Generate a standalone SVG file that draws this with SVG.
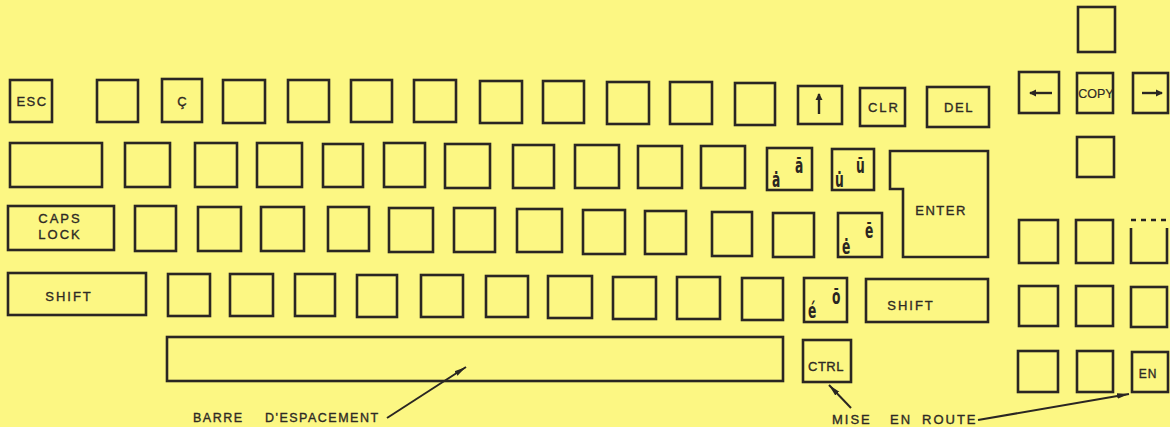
<svg xmlns="http://www.w3.org/2000/svg" width="1170" height="427" viewBox="0 0 1170 427">
<defs>
<style>
.k{fill:none;stroke:#2a2622;stroke-width:2.6;stroke-linejoin:miter}
.t{font-family:"Liberation Sans",Arial,sans-serif;font-size:13px;fill:#2e2a25;stroke:#2e2a25;stroke-width:0.35;text-anchor:middle;letter-spacing:1.5px}
.acc{font-family:"DejaVu Sans Condensed","DejaVu Sans",sans-serif;font-weight:bold;font-size:22px;fill:#2a2622}
.c{fill:none;stroke:#2a2622;stroke-width:2}
.ar{fill:none;stroke:#2a2622;stroke-width:2.4}
</style>
<marker id="ah" markerUnits="userSpaceOnUse" markerWidth="14" markerHeight="8" refX="12" refY="4" orient="auto">
<path d="M0,1.2 L12,4 L0,6.8 Z" fill="#2a2622"/>
</marker>
<marker id="ahs" markerUnits="userSpaceOnUse" markerWidth="8" markerHeight="8" refX="6" refY="4" orient="auto">
<path d="M0,0.5 L7,4 L0,7.5 Z" fill="#2a2622"/>
</marker>
</defs>
<rect width="1170" height="427" fill="#fcf783"/>

<g id="row1">
<g id="k-esc"><rect class="k" x="10" y="80" width="42" height="42"/><text class="t" x="32" y="106">ESC</text></g>
<g id="r1-2"><rect class="k" x="97" y="80" width="41" height="42"/></g>
<g id="k-cedil"><rect class="k" x="162" y="79" width="40" height="43"/><text class="t" x="182" y="106" style="letter-spacing:0">Ç</text></g>
<g id="r1-4"><rect class="k" x="223" y="80" width="42" height="43"/></g>
<g id="r1-5"><rect class="k" x="288" y="80" width="41" height="42"/></g>
<g id="r1-6"><rect class="k" x="351" y="80" width="41" height="42"/></g>
<g id="r1-7"><rect class="k" x="414" y="80" width="42" height="42"/></g>
<g id="r1-8"><rect class="k" x="480" y="81" width="42" height="42"/></g>
<g id="r1-9"><rect class="k" x="543" y="81" width="41" height="42"/></g>
<g id="r1-10"><rect class="k" x="607" y="82" width="42" height="42"/></g>
<g id="r1-11"><rect class="k" x="670" y="82" width="42" height="42"/></g>
<g id="r1-12"><rect class="k" x="735" y="83" width="40" height="42"/></g>
<g id="k-up"><rect class="k" x="798" y="86" width="44" height="38"/><line class="ar" x1="819" y1="114" x2="819" y2="94" marker-end="url(#ahs)"/></g>
<g id="k-clr"><rect class="k" x="860" y="88" width="45" height="38"/><text class="t" x="884" y="112" style="letter-spacing:2px">CLR</text></g>
<g id="k-del"><rect class="k" x="927" y="87" width="62" height="40"/><text class="t" x="959" y="112">DEL</text></g>
</g>

<g id="cursor-keys">
<g id="k-ctop"><rect class="k" x="1078" y="7" width="37" height="45"/></g>
<g id="k-left"><rect class="k" x="1019" y="72" width="40" height="41"/><line class="ar" x1="1052" y1="93" x2="1030" y2="93" marker-end="url(#ahs)"/></g>
<g id="k-copy"><rect class="k" x="1077" y="73" width="36" height="40"/><text class="t" x="1096" y="98" style="letter-spacing:0;font-size:12.5px;stroke-width:0.2">COPY</text></g>
<g id="k-right"><rect class="k" x="1133" y="73" width="35" height="40"/><line class="ar" x1="1142" y1="93" x2="1162" y2="93" marker-end="url(#ahs)"/></g>
<g id="k-cbot"><rect class="k" x="1077" y="137" width="37" height="40"/></g>
</g>

<g id="row2">
<g id="k-tab"><rect class="k" x="10" y="143" width="92" height="44"/></g>
<g id="r2-2"><rect class="k" x="125" y="143" width="45" height="44"/></g>
<g id="r2-3"><rect class="k" x="195" y="143" width="42" height="44"/></g>
<g id="r2-4"><rect class="k" x="257" y="143" width="45" height="44"/></g>
<g id="r2-5"><rect class="k" x="323" y="144" width="40" height="43"/></g>
<g id="r2-6"><rect class="k" x="384" y="143" width="41" height="44"/></g>
<g id="r2-7"><rect class="k" x="445" y="144" width="45" height="44"/></g>
<g id="r2-8"><rect class="k" x="513" y="145" width="41" height="43"/></g>
<g id="r2-9"><rect class="k" x="575" y="145" width="44" height="43"/></g>
<g id="r2-10"><rect class="k" x="638" y="146" width="44" height="42"/></g>
<g id="r2-11"><rect class="k" x="701" y="146" width="44" height="42"/></g>
<g id="k-a"><rect class="k" x="767" y="148" width="45" height="42"/><text class="acc" transform="translate(772,187) scale(0.62,1)">ȧ</text><text class="acc" transform="translate(795,173) scale(0.62,1)">ā</text></g>
<g id="k-u"><rect class="k" x="832" y="149" width="42" height="41"/><text class="acc" transform="translate(835,187) scale(0.62,1)">u̇</text><text class="acc" transform="translate(856,173) scale(0.62,1)">ū</text></g>
<g id="k-enter"><path class="k" d="M890,151 H988 V257 H903 V189 H890 Z"/><text class="t" x="941" y="215">ENTER</text></g>
</g>

<g id="row3">
<g id="k-caps"><rect class="k" x="8" y="206" width="106" height="44"/><text class="t" x="60" y="223" style="letter-spacing:2px">CAPS</text><text class="t" x="60" y="239" style="letter-spacing:2px">LOCK</text></g>
<g id="r3-2"><rect class="k" x="135" y="206" width="41" height="45"/></g>
<g id="r3-3"><rect class="k" x="198" y="207" width="43" height="44"/></g>
<g id="r3-4"><rect class="k" x="261" y="207" width="43" height="44"/></g>
<g id="r3-5"><rect class="k" x="328" y="207" width="41" height="44"/></g>
<g id="r3-6"><rect class="k" x="389" y="208" width="44" height="44"/></g>
<g id="r3-7"><rect class="k" x="454" y="208" width="41" height="44"/></g>
<g id="r3-8"><rect class="k" x="517" y="209" width="45" height="43"/></g>
<g id="r3-9"><rect class="k" x="583" y="210" width="42" height="44"/></g>
<g id="r3-10"><rect class="k" x="645" y="211" width="41" height="43"/></g>
<g id="r3-11"><rect class="k" x="712" y="212" width="40" height="44"/></g>
<g id="r3-12"><rect class="k" x="773" y="213" width="41" height="44"/></g>
<g id="k-e"><rect class="k" x="838" y="213" width="44" height="44"/><text class="acc" transform="translate(842,254) scale(0.62,1)">ė</text><text class="acc" transform="translate(865,238) scale(0.62,1)">ē</text></g>
</g>

<g id="row4">
<g id="k-lshift"><rect class="k" x="8" y="273" width="138" height="42"/><text class="t" x="69" y="301" style="letter-spacing:2px">SHIFT</text></g>
<g id="r4-2"><rect class="k" x="168" y="274" width="42" height="42"/></g>
<g id="r4-3"><rect class="k" x="230" y="274" width="43" height="42"/></g>
<g id="r4-4"><rect class="k" x="295" y="274" width="40" height="42"/></g>
<g id="r4-5"><rect class="k" x="357" y="275" width="40" height="42"/></g>
<g id="r4-6"><rect class="k" x="421" y="275" width="42" height="42"/></g>
<g id="r4-7"><rect class="k" x="486" y="276" width="42" height="41"/></g>
<g id="r4-8"><rect class="k" x="548" y="276" width="44" height="42"/></g>
<g id="r4-9"><rect class="k" x="613" y="277" width="43" height="42"/></g>
<g id="r4-10"><rect class="k" x="677" y="277" width="43" height="42"/></g>
<g id="r4-11"><rect class="k" x="742" y="278" width="41" height="42"/></g>
<g id="k-eacute"><rect class="k" x="804" y="278" width="43" height="44"/><text class="acc" transform="translate(808,318) scale(0.62,1)">é</text><text class="acc" transform="translate(832,304) scale(0.62,1)">ō</text></g>
<g id="k-rshift"><rect class="k" x="866" y="279" width="122" height="43"/><text class="t" x="911" y="310" style="letter-spacing:2px">SHIFT</text></g>
</g>

<g id="row5">
<g id="k-space"><rect class="k" x="167" y="337" width="616" height="44"/></g>
<g id="k-ctrl"><rect class="k" x="803" y="340" width="48" height="42"/><text class="t" x="826" y="371" style="letter-spacing:0.5px">CTRL</text></g>
</g>

<g id="keypad">
<g id="kp-a1"><rect class="k" x="1019" y="220" width="39" height="43"/></g>
<g id="kp-a2"><rect class="k" x="1076" y="220" width="37" height="43"/></g>
<g id="kp-a3"><path class="k" d="M1131,220 H1167" stroke-dasharray="5,5"/><path class="k" d="M1131,228 V263 H1167 V228"/></g>
<g id="kp-b1"><rect class="k" x="1019" y="286" width="39" height="40"/></g>
<g id="kp-b2"><rect class="k" x="1076" y="286" width="37" height="40"/></g>
<g id="kp-b3"><rect class="k" x="1131" y="287" width="36" height="40"/></g>
<g id="kp-c1"><rect class="k" x="1018" y="351" width="40" height="41"/></g>
<g id="kp-c2"><rect class="k" x="1077" y="351" width="36" height="41"/></g>
<g id="k-en"><rect class="k" x="1132" y="352" width="36" height="40"/><text class="t" x="1148" y="378" style="font-size:12px;letter-spacing:1px">EN</text></g>
</g>

<g id="labels">
<text class="t" x="193" y="422" style="text-anchor:start;font-size:12.5px">BARRE</text>
<text class="t" x="265" y="422" style="text-anchor:start;font-size:12.5px">D'ESPACEMENT</text>
<text class="t" x="832" y="424" style="text-anchor:start;letter-spacing:2px">MISE</text>
<text class="t" x="890" y="424" style="text-anchor:start;letter-spacing:2px">EN</text>
<text class="t" x="922" y="424" style="text-anchor:start;letter-spacing:2px">ROUTE</text>
</g>

<g id="connectors">
<line class="c" x1="387" y1="418" x2="466" y2="367" marker-end="url(#ah)"/>
<line class="c" x1="851" y1="408" x2="829" y2="385" marker-end="url(#ah)"/>
<line class="c" x1="978" y1="420" x2="1129" y2="394" marker-end="url(#ah)"/>
</g>
</svg>
